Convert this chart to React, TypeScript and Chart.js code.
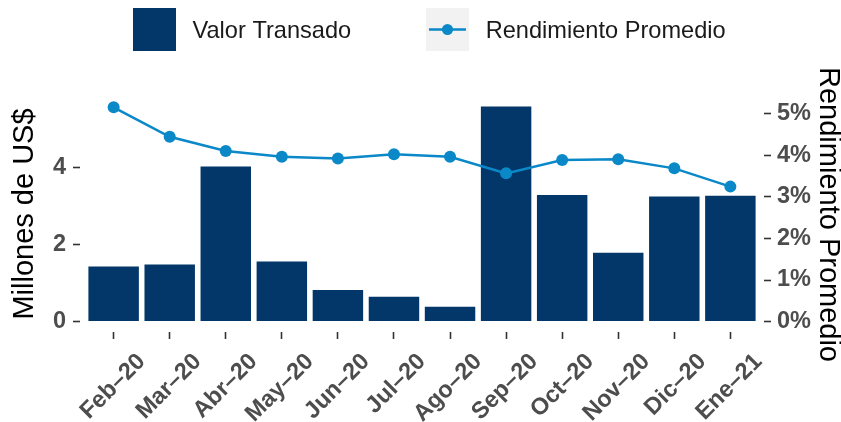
import React, { useEffect, useRef } from 'react';
import { Chart, registerables } from 'chart.js';

Chart.register(...registerables);

// ---- data ----
const months = ['Feb–20', 'Mar–20', 'Abr–20', 'May–20', 'Jun–20', 'Jul–20', 'Ago–20', 'Sep–20', 'Oct–20', 'Nov–20', 'Dic–20', 'Ene–21'];
const valorTransado = [1.43, 1.48, 4.03, 1.56, 0.82, 0.645, 0.385, 5.59, 3.29, 1.79, 3.25, 3.27];
const rendimientoPromedio = [5.16, 4.45, 4.11, 3.97, 3.93, 4.03, 3.97, 3.57, 3.89, 3.91, 3.69, 3.25];
const leftTicks = [0, 2, 4];
const rightTicks = [0, 1, 2, 3, 4, 5];
const seriesNames = ['Valor Transado', 'Rendimiento Promedio'];
const leftTitle = 'Millones de US$';
const rightTitle = 'Rendimiento Promedio';

// ---- styles ----
const BAR = '#033769';
const LINE = '#0A88C8';
const FONT = "'Liberation Sans', Arial, Helvetica, sans-serif";
const TICK_COLOR = '#4D4D4D';
const TICK_MARK = '#333333';

const legendPlugin = {
  id: 'customLegend',
  afterDraw(chart: any) {
    const ctx = chart.ctx;
    const ds = chart.data.datasets;
    ctx.save();
    ctx.font = `23.6px ${FONT}`;
    ctx.textAlign = 'left';
    ctx.textBaseline = 'alphabetic';
    // key 1: bar
    ctx.fillStyle = ds[0].backgroundColor;
    ctx.fillRect(133, 8, 43, 43);
    ctx.fillStyle = '#1A1A1A';
    ctx.fillText(ds[0].label, 192.5, 38.3);
    // key 2: line + point
    ctx.fillStyle = '#F2F2F2';
    ctx.fillRect(426, 8, 43, 43);
    ctx.strokeStyle = ds[1].borderColor;
    ctx.lineWidth = 2.5;
    ctx.beginPath();
    ctx.moveTo(429, 29.5);
    ctx.lineTo(466, 29.5);
    ctx.stroke();
    ctx.fillStyle = ds[1].pointBackgroundColor;
    ctx.beginPath();
    ctx.arc(447.5, 29.5, 5.5, 0, Math.PI * 2);
    ctx.fill();
    ctx.fillStyle = '#1A1A1A';
    ctx.fillText(ds[1].label, 485.7, 38.3);
    ctx.restore();
  },
};

const rightTitlePlugin = {
  id: 'rightTitle',
  afterDraw(chart: any) {
    const ctx = chart.ctx;
    const { top, bottom } = chart.chartArea;
    ctx.save();
    ctx.translate(828.3, (top + bottom) / 2 + 0.5);
    ctx.rotate(Math.PI / 2);
    ctx.font = `29px ${FONT}`;
    ctx.fillStyle = '#000000';
    ctx.textAlign = 'center';
    ctx.textBaseline = 'middle';
    ctx.fillText(rightTitle, 0, 0);
    ctx.restore();
  },
};

export default function App() {
  const ref = useRef<HTMLCanvasElement | null>(null);

  useEffect(() => {
    if (!ref.current) return;
    const tickFont = { family: FONT, size: 23.5, weight: 'bold' as const };
    const tickGrid = {
      display: true,
      drawOnChartArea: false,
      drawTicks: true,
      tickLength: 7,
      tickColor: TICK_MARK,
      tickWidth: 1.6,
    };
    const chart = new Chart(ref.current, {
      type: 'bar',
      data: {
        datasets: [
          {
            type: 'bar',
            label: seriesNames[0],
            data: valorTransado.map((v, i) => ({ x: i, y: v })),
            backgroundColor: BAR,
            borderWidth: 0,
            barPercentage: 0.9,
            categoryPercentage: 1.0,
            yAxisID: 'y',
            order: 1,
          } as any,
          {
            type: 'line',
            label: seriesNames[1],
            data: rendimientoPromedio.map((v, i) => ({ x: i, y: v })),
            borderColor: LINE,
            borderWidth: 2.5,
            pointRadius: 6,
            pointBackgroundColor: LINE,
            pointBorderWidth: 0,
            tension: 0,
            yAxisID: 'y1',
            order: 0,
          } as any,
        ],
      },
      options: {
        responsive: false,
        animation: false,
        layout: { padding: { top: 96, left: 0, right: 0, bottom: 0 } },
        plugins: {
          legend: { display: false },
          tooltip: { enabled: false },
        },
        scales: {
          x: {
            type: 'linear',
            min: -0.6,
            max: 11.6,
            offset: false,
            grid: { ...tickGrid, offset: false },
            border: { display: false },
            afterBuildTicks: (s: any) => {
              s.ticks = months.map((_, i) => ({ value: i }));
            },
            afterFit: (s: any) => {
              s.height = 90;
            },
            ticks: {
              autoSkip: false,
              minRotation: 45,
              maxRotation: 45,
              padding: 9,
              labelOffset: 28,
              color: TICK_COLOR,
              font: tickFont,
              callback: (v: any) => months[Math.round(Number(v))] ?? '',
            },
          },
          y: {
            type: 'linear',
            position: 'left',
            min: -0.2731,
            max: 5.8648,
            grid: tickGrid,
            border: { display: false },
            afterBuildTicks: (s: any) => {
              s.ticks = leftTicks.map((v) => ({ value: v }));
            },
            afterFit: (s: any) => {
              s.width = 80;
            },
            ticks: {
              padding: 7,
              color: TICK_COLOR,
              font: tickFont,
              callback: (v: any) => String(v),
            },
            title: {
              display: true,
              text: leftTitle,
              color: '#000000',
              font: { family: FONT, size: 29, weight: 'normal' as const },
              padding: { top: 7.6, bottom: 0 },
            },
          },
          y1: {
            type: 'linear',
            position: 'right',
            min: -0.253,
            max: 5.4337,
            grid: tickGrid,
            border: { display: false },
            afterBuildTicks: (s: any) => {
              s.ticks = rightTicks.map((v) => ({ value: v }));
            },
            afterFit: (s: any) => {
              s.width = 77;
            },
            ticks: {
              padding: 6,
              color: TICK_COLOR,
              font: tickFont,
              callback: (v: any) => `${v}%`,
            },
          },
        },
      } as any,
      plugins: [legendPlugin, rightTitlePlugin],
    });
    return () => chart.destroy();
  }, []);

  return (
    <div style={{ position: 'fixed', left: 0, top: 0, width: 841, height: 422, background: '#FFFFFF' }}>
      <canvas ref={ref} width={841} height={422} style={{ display: 'block', width: 841, height: 422 }} />
    </div>
  );
}
